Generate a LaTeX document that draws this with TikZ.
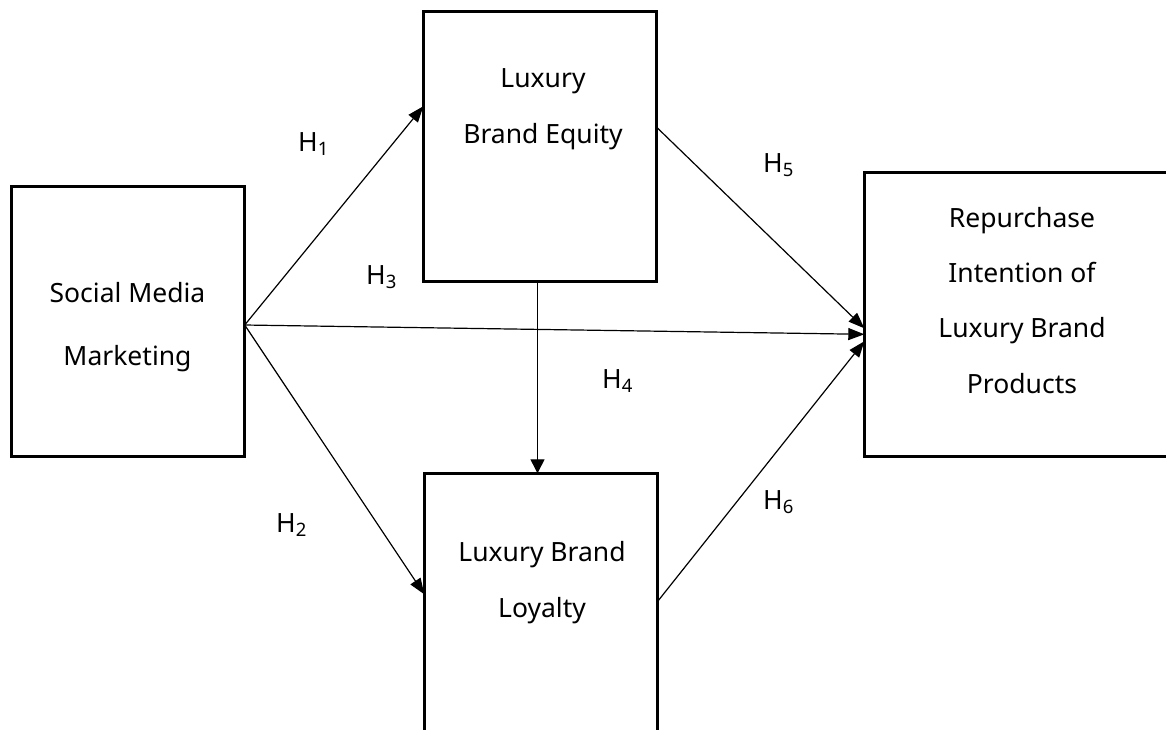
\documentclass[tikz,border=0pt]{standalone}
\usepackage{fontspec}
\setmainfont{Noto Sans}
\usetikzlibrary{arrows.meta,calc}
\newcommand{\hsub}[1]{H{\fontsize{18.5}{20}\selectfont\raisebox{-4.5pt}{#1}}}
\begin{document}
\begin{tikzpicture}[x=1pt,y=-1pt,
  box/.style={draw,line width=2.6pt,inner sep=0pt,outer sep=0pt,minimum width=233.4pt},
  lbl/.style={font=\fontsize{26.5}{56}\selectfont,align=center,anchor=base,inner sep=0pt},
  hyp/.style={font=\fontsize{26.5}{30}\selectfont,anchor=base west,inner sep=0pt},
  conn/.style={line width=1.2pt,-{Triangle[length=16pt,width=12pt]}}]
\clip (0,0) rectangle (1166,729);
\fill[white] (0,0) rectangle (1166,729);
% boxes
\node[box,minimum height=270.4pt] (smm) at (128,321.5) {};
\node[box,minimum height=270.4pt] (lbe) at (540,146.5) {};
\node[box,minimum height=270.4pt] (lbl) at (541,608.5) {};
\node[box,minimum width=327.4pt,minimum height=284.4pt] (ri) at (1028,314.5) {};
% texts (anchor base = baseline of the last line)
\node[lbl,font=\fontsize{26.5}{63}\selectfont] (smmt) at (127.5,365) {Social Media\\Marketing};
\node[lbl] (lbet) at (543,143) {Luxury\\Brand Equity};
\node[lbl] (lblt) at (542,617) {Luxury Brand\\Loyalty};
\node[lbl,font=\fontsize{26.5}{55.3}\selectfont] (rit) at (1022,393) {Repurchase\\Intention of\\Luxury Brand\\Products};
% connectors
\coordinate (o) at ($(smm.east)+(0,3.5)$);
\draw[conn] (o) -- ($(lbe.north west)+(0,95)$);
\draw[conn] (o) -- ($(lbl.north west)+(0,121)$);
\draw[conn] (o) -- ($(ri.north west)+(0,162)$);
\draw[conn,-{Triangle[length=14pt,width=14pt]}] ($(lbe.south)+(-2.5,0)$) -- ($(lbl.north)+(-3.5,0)$);
\draw[conn] ($(lbe.north east)+(0,116)$) -- ($(ri.north west)+(0,156)$);
\draw[conn] ($(lbl.north east)+(0,128)$) -- ($(ri.north west)+(0,169)$);
% hypothesis labels
\node[hyp] (h1) at (298,151) {\hsub{1}};
\node[hyp] (h2) at (276,532) {\hsub{2}};
\node[hyp] (h3) at (366,284) {\hsub{3}};
\node[hyp] (h4) at (602,388) {\hsub{4}};
\node[hyp] (h5) at (763,172) {\hsub{5}};
\node[hyp] (h6) at (763,509) {\hsub{6}};
\end{tikzpicture}
\end{document}
